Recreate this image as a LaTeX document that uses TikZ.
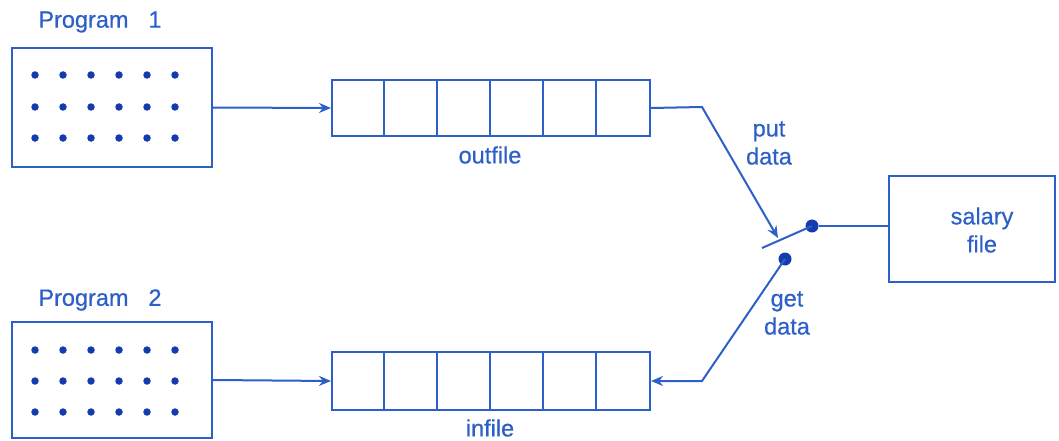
\documentclass[tikz,border=0pt]{standalone}
\usepackage{fontspec}
\setmainfont{Liberation Sans}[FakeBold=0.6]
\usetikzlibrary{arrows.meta}
\definecolor{ink}{RGB}{45,95,200}
\definecolor{dotc}{RGB}{20,60,175}
\begin{document}
\begin{tikzpicture}[x=1pt,y=-1pt,
  box/.style={draw=ink, line width=2pt, rectangle, inner sep=0pt},
  lbl/.style={text=ink, font=\fontsize{23.5}{28}\selectfont, align=center, inner sep=0pt},
  conn/.style={draw=ink, line width=2pt},
  tip/.style={-{Stealth[length=12pt,width=10pt]}},
  bigdot/.style={circle, fill=dotc, minimum size=13pt, inner sep=0pt},
  pdot/.style={circle, fill=dotc, minimum size=7.5pt, inner sep=0pt}]
\useasboundingbox (0,0) rectangle (1059,441);
% program boxes
\node[box, minimum width=200pt, minimum height=119pt] (p1) at (112,107.5) {};
\node[box, minimum width=200pt, minimum height=116pt] (p2) at (112,380) {};
\node[lbl] (p1l) at (100,22) {Program\hspace{20pt}1};
\node[lbl] (p2l) at (100,300) {Program\hspace{20pt}2};
\foreach \c in {0,...,5} {
  \foreach \r/\y in {0/75,1/107,2/138} {
    \node[pdot] (da\c\r) at (35+28*\c,\y) {};
  }
  \foreach \r/\y in {0/350,1/381,2/412} {
    \node[pdot] (db\c\r) at (35+28*\c,\y) {};
  }
}
% queues
\node[box, minimum width=318pt, minimum height=56pt] (outq) at (491,108) {};
\node[box, minimum width=318pt, minimum height=58pt] (inq) at (491,381) {};
\foreach \i in {1,...,5} {
  \draw[conn] ([xshift=\i*53pt]outq.north west) -- ([xshift=\i*53pt]outq.south west);
  \draw[conn] ([xshift=\i*53pt]inq.north west) -- ([xshift=\i*53pt]inq.south west);
}
\node[lbl] (outl) at (490,155) {outfile};
\node[lbl] (inl) at (490,428) {infile};
% salary file
\node[box, minimum width=166pt, minimum height=106pt] (sal) at (972,229) {};
\node[lbl] (sall) at (982,230) {salary\\file};
% switch
\node[bigdot] (sw1) at (812,226) {};
\node[bigdot] (sw2) at (785,259) {};
\coordinate (lev) at (762,248);
\coordinate (bendA) at (702,107);
\coordinate (bendB) at (702,381);
\coordinate (putend) at (778,238);
\node[lbl] (putl) at (769,143) {put\\data};
\node[lbl] (getl) at (787,313) {get\\data};
% connectors
\draw[conn, tip] (p1.east) -- (outq.west);
\draw[conn, tip] (p2.east) -- (inq.west);
\draw[conn, tip] (outq.east) -- (bendA) -- (putend);
\draw[conn] (sw1.center) -- (lev);
\draw[conn] (sw1) -- (sw1 -| sal.west);
\draw[conn, tip] (sw2.center) -- (bendB) -- (inq.east);
\end{tikzpicture}
\end{document}
